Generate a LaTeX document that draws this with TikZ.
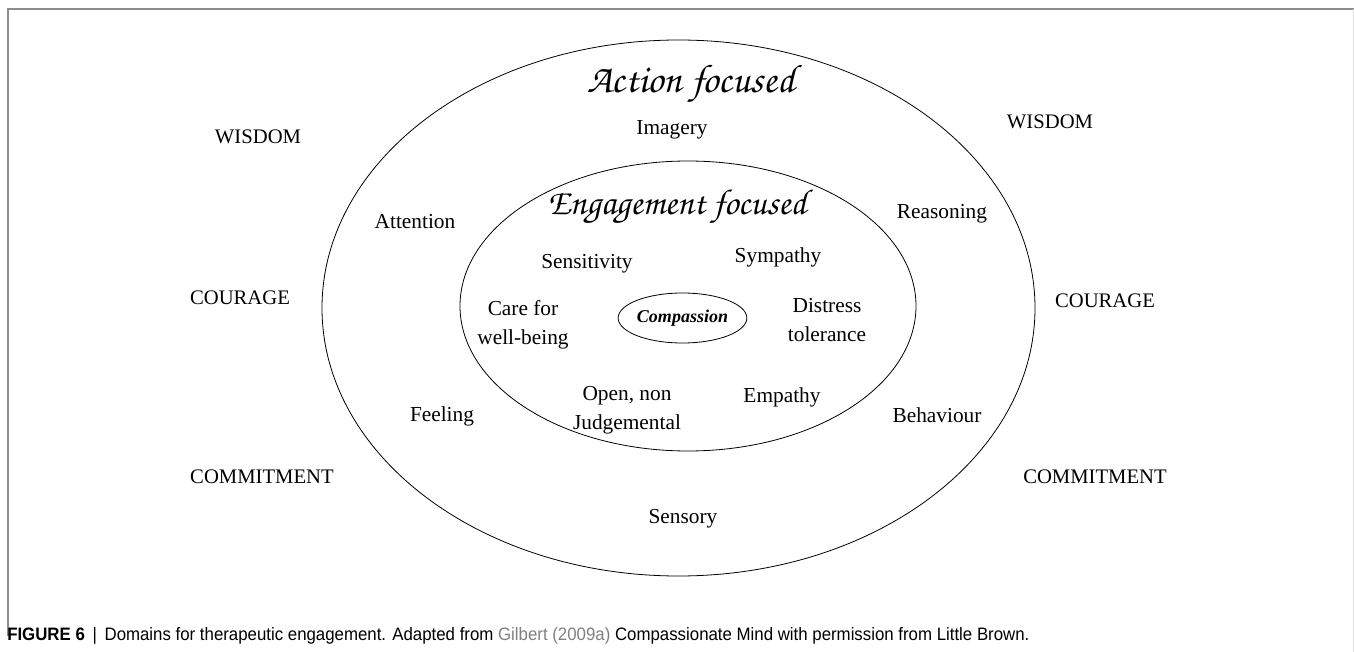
\documentclass[tikz,border=0pt]{standalone}
\usepackage{fontspec}
\setmainfont{Liberation Serif}
\newfontfamily\capfont[FakeStretch=0.935]{Liberation Sans}
\newfontfamily\handfont{texgyrechorus-mediumitalic.otf}
\usetikzlibrary{shapes.geometric}
\tikzset{
  ring/.style={draw, ellipse, inner sep=0pt, line width=0.6pt},
  lbl/.style={font=\fontsize{16}{22}\selectfont, align=center},
  virtue/.style={font=\fontsize{15.5}{18}\selectfont},
  focus/.style={font=\handfont\fontsize{#1}{32}\selectfont},
}

\begin{document}
\begin{tikzpicture}[x=0.75pt, y=-0.75pt]
\useasboundingbox (0,0) rectangle (1354,652);
% frame
\coordinate (tl) at (8,9);
\coordinate (tr) at (1354,9);
\coordinate (bl) at (8,636);
\draw[gray!90, line width=0.8pt] (bl) -- (tl) -- (tr);
\coordinate (rt) at (1353,9);
\coordinate (rb) at (1353,652);
\draw[gray!25, line width=0.6pt] (rt) -- (rb);
% rings
\node[ring, minimum width=534.75pt, minimum height=402pt] (outer) at (678.5,308) {};
\node[ring, minimum width=342pt, minimum height=217.5pt] (inner) at (688,306) {};
\node[ring, minimum width=95.25pt, minimum height=37.5pt, font=\bfseries\itshape\fontsize{13.5}{15}\selectfont] (core) at (682.5,318) {Compassion};
% headings
\node[focus=30] (action) at (691,84) {Action focused};
\node[focus=27] (engage) at (677,207) {Engagement focused};
% outer ring
\node[lbl] (imagery) at (672,130) {Imagery};
\node[lbl] (attention) at (415,222) {Attention};
\node[lbl] (reasoning) at (942,214) {Reasoning};
\node[lbl] (feeling) at (442,416) {Feeling};
\node[lbl] (behaviour) at (937,415) {Behaviour};
\node[lbl] (sensory) at (683,519) {Sensory};
% inner ring
\node[lbl] (sensitivity) at (587,264) {Sensitivity};
\node[lbl] (sympathy) at (778,257) {Sympathy};
\node[lbl] (care) at (523,325) {Care for\\well-being};
\node[lbl] (distress) at (827,320) {Distress\\tolerance};
\node[lbl] (open) at (627,410) {Open, non\\Judgemental};
\node[lbl] (empathy) at (782,397) {Empathy};
% virtues
\node[virtue] (wisdomL) at (258,137) {WISDOM};
\node[virtue] (wisdomR) at (1050,122) {WISDOM};
\node[virtue] (courageL) at (240,298) {COURAGE};
\node[virtue] (courageR) at (1105,301) {COURAGE};
\node[virtue] (commitL) at (262,477) {COMMITMENT};
\node[virtue] (commitR) at (1095,477) {COMMITMENT};
% caption
\node[anchor=west, inner sep=0pt, font=\capfont\fontsize{13.5}{16}\selectfont] (caption) at (7,636)
  {\textbf{FIGURE 6} \,|\, Domains for therapeutic engagement. Adapted from \textcolor{gray}{Gilbert (2009a)} Compassionate Mind with permission from Little Brown.};
\end{tikzpicture}
\end{document}
